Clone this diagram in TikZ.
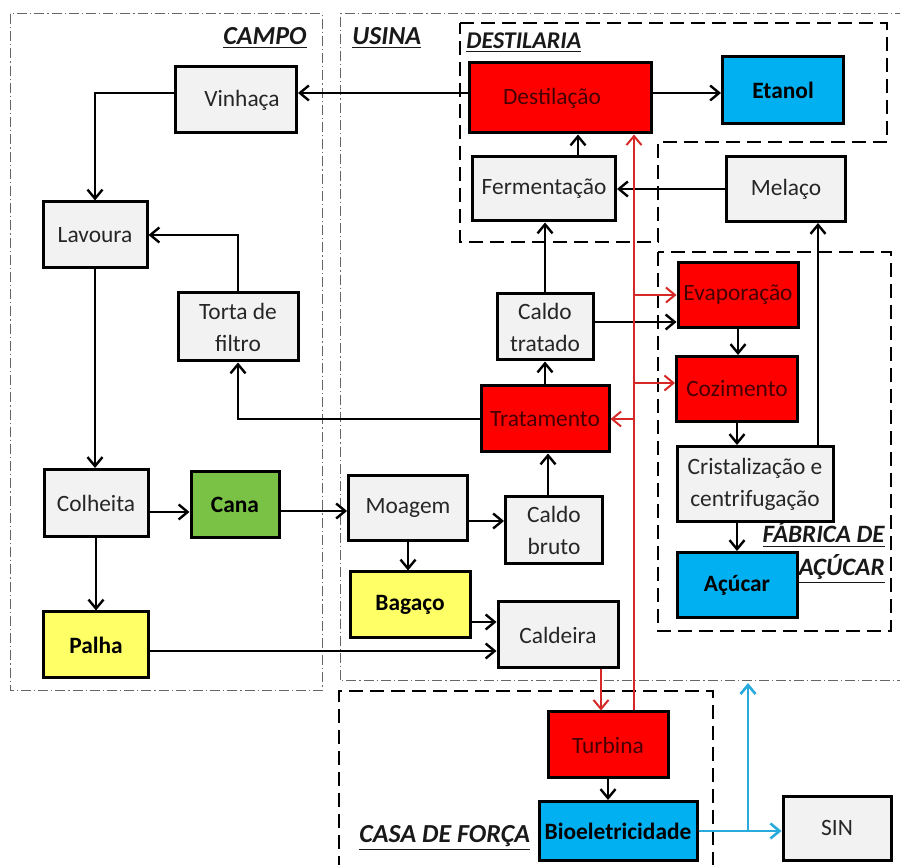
\documentclass[tikz,border=0pt]{standalone}
\usepackage{fontspec}
\setmainfont{Carlito}
\usepackage{tikz}
\usetikzlibrary{calc,arrows.meta}

\definecolor{boxgray}{RGB}{242,242,242}
\definecolor{procred}{RGB}{255,0,0}
\definecolor{textred}{RGB}{70,0,0}
\definecolor{prodblue}{RGB}{0,176,240}
\definecolor{canegreen}{RGB}{122,194,70}
\definecolor{strawyellow}{RGB}{255,255,102}
\definecolor{steamred}{RGB}{215,40,40}
\definecolor{powerblue}{RGB}{40,170,220}

\begin{document}
\begin{tikzpicture}[x=0.5pt,y=-0.5pt,
  font=\fontsize{11.7}{16}\selectfont,
  dims/.style 2 args={minimum width=#1*0.5pt,minimum height=#2*0.5pt},
  box/.style={draw,line width=1.5pt,fill=boxgray,text=black!85,align=center,inner sep=0pt},
  strong/.style={font=\fontsize{11.7}{16}\selectfont\bfseries,text=black},
  hot/.style={box,fill=procred,text=textred},
  product/.style={box,strong,fill=prodblue},
  flow/.style={line width=1.2pt,-{Straight Barb[length=4.5pt,width=7.5pt]}},
  steam/.style={flow,steamred,line width=1pt},
  power/.style={flow,powerblue,line width=1.3pt},
  area/.style={line width=1pt,dash pattern=on 7pt off 3.5pt},
  zone/.style={line width=0.5pt,black!60,dash pattern=on 5pt off 1.5pt on 0.6pt off 1.5pt},
  title/.style={font=\fontsize{13}{17}\selectfont\bfseries\itshape,text=black!90,inner sep=0pt}
]
  \useasboundingbox (0,0) rectangle (900,865);

  % Zones
  \draw[zone] (10,14) rectangle (322,691);
  \draw[zone] (905,14) -- (340,14) -- (340,681) -- (905,681);
  \draw[area] (460,23) -- (887,23) -- (887,142) -- (658,142) -- (658,242) -- (460,242) -- cycle;
  \draw[area] (658,252) rectangle (891,631);
  \draw[area] (339,870) -- (339,691) -- (713,691) -- (713,870);

  \node[title,anchor=east] (campo) at (307,38) {\underline{CAMPO}};
  \node[title,anchor=west] (usina) at (352,38) {\underline{USINA}};
  \node[title,anchor=west,font=\fontsize{12}{16}\selectfont\bfseries\itshape] (destilaria) at (466,43) {\underline{DESTILARIA}};
  \node[title,anchor=east,align=right,font=\fontsize{12.5}{16.5}\selectfont\bfseries\itshape] (fabrica) at (885,553) {\underline{FÁBRICA DE}\\\underline{AÇÚCAR}};
  \node[title,anchor=west] (casa) at (359,838) {\underline{CASA DE FORÇA}};

  % Campo
  \node[box,dims={121}{66}] (vinhaca) at (236,100) {\hspace{6pt}Vinhaça};
  \node[box,dims={104}{66}] (lavoura) at (95,235) {Lavoura};
  \node[box,dims={120}{68}] (torta) at (238,327) {Torta de\\filtro};
  \node[box,dims={104}{67}] (colheita) at (96,503) {Colheita};
  \node[box,strong,fill=canegreen,dims={88}{66}] (cana) at (235,505) {Cana};
  \node[box,strong,fill=strawyellow,dims={105}{66}] (palha) at (96,645) {Palha};

  % Usina
  \node[box,dims={119}{65}] (moagem) at (408,508) {Moagem};
  \node[box,strong,fill=strawyellow,dims={120}{66}] (bagaco) at (410,605) {Bagaço};
  \node[box,dims={97}{67}] (caldobruto) at (554,530) {Caldo\\bruto};
  \node[box,dims={120}{66}] (caldeira) at (558,635) {Caldeira};
  \node[hot,dims={128}{66}] (tratamento) at (545,419) {Tratamento};
  \node[box,dims={96}{66}] (caldotratado) at (545,327) {Caldo\\tratado};

  % Destilaria
  \node[box,dims={143}{64}] (fermentacao) at (544,189) {Fermentação};
  \node[hot,dims={182}{70}] (destilacao) at (560,98) {Destilação\hspace{8pt}};
  \node[product,dims={121}{67}] (etanol) at (783,90) {Etanol};
  \node[box,dims={119}{65}] (melaco) at (786,189) {Melaço};

  % Fabrica de acucar
  \node[hot,dims={120}{65}] (evaporacao) at (738,295) {Evaporação};
  \node[hot,dims={121}{65}] (cozimento) at (737,389) {Cozimento};
  \node[box,dims={156}{75}] (cristal) at (755,484) {Cristalização e\\centrifugação};
  \node[product,dims={120}{65}] (acucar) at (737,585) {Açúcar};

  % Casa de forca
  \node[hot,dims={120}{66}] (turbina) at (608,745) {Turbina};
  \node[product,dims={158}{59}] (bio) at (618,831) {Bioeletricidade};
  \node[box,dims={108}{64}] (sin) at (837,828) {SIN};

  % Flows
  \coordinate (d2v) at ($(destilacao.west)+(0,-5)$);
  \coordinate (v2l) at ($(vinhaca.west)+(0,-7)$);
  \coordinate (d2e) at ($(destilacao.east)+(0,-5)$);
  \coordinate (f2d) at ($(fermentacao.north)+(34,0)$);
  \coordinate (b2t) at ($(caldobruto.north)+(-6,0)$);
  \coordinate (m2c) at ($(moagem.east)+(0,13)$);
  \coordinate (c2m) at ($(cana.east)+(0,6)$);
  \coordinate (h2c) at ($(colheita.east)+(0,9)$);
  \coordinate (p2c) at ($(palha.east)+(0,6)$);
  \coordinate (g2c) at ($(bagaco.east)+(0,17)$);
  \coordinate (t2e) at ($(caldotratado.east)+(0,-5)$);
  \coordinate (x2m) at ($(melaco.south)+(32,0)$);

  \draw[flow] (d2v) -- (d2v -| vinhaca.east);
  \draw[flow] (v2l) -| (lavoura.north);
  \draw[flow] (d2e) -- (d2e -| etanol.west);
  \draw[flow] (f2d) -- (f2d |- destilacao.south);
  \draw[flow] (melaco.west) -- (melaco.west -| fermentacao.east);
  \draw[flow] (caldotratado.north) -- (caldotratado.north |- fermentacao.south);
  \draw[flow] (tratamento.north) -- (tratamento.north |- caldotratado.south);
  \draw[flow] (b2t) -- (b2t |- tratamento.south);
  \draw[flow] (m2c) -- (m2c -| caldobruto.west);
  \draw[flow] (moagem.south) -- (moagem.south |- bagaco.north);
  \draw[flow] (c2m) -- (c2m -| moagem.west);
  \draw[flow] (h2c) -- (h2c -| cana.west);
  \draw[flow] (lavoura.south) -- (lavoura.south |- colheita.north);
  \draw[flow] (colheita.south) -- (colheita.south |- palha.north);
  \draw[flow] (torta.north) |- (lavoura.east);
  \draw[flow] (tratamento.west) -| (torta.south);
  \draw[flow] (p2c) -- (p2c -| caldeira.west);
  \draw[flow] (g2c) -- (g2c -| caldeira.west);
  \draw[flow] (t2e) -- (t2e -| evaporacao.west);
  \draw[flow] (evaporacao.south) -- (evaporacao.south |- cozimento.north);
  \draw[flow] (cozimento.south) -- (cozimento.south |- cristal.north);
  \draw[flow] (acucar.north |- cristal.south) -- (acucar.north);
  \draw[flow] (x2m |- cristal.north) -- (x2m);
  \draw[flow] (turbina.south) -- (turbina.south |- bio.north);

  % Steam
  \coordinate (steamline) at ($(turbina.north)+(26,0)$);
  \coordinate (c2t) at ($(caldeira.south)+(43,0)$);
  \coordinate (s2z) at ($(cozimento.west)+(0,-6)$);
  \draw[steam] (c2t) -- (c2t |- turbina.north);
  \draw[steam] (steamline) -- (steamline |- destilacao.south);
  \draw[steam] (steamline |- evaporacao.west) -- (evaporacao.west);
  \draw[steam] (steamline |- s2z) -- (s2z);
  \draw[steam] (steamline |- tratamento.east) -- (tratamento.east);

  % Power
  \coordinate (grid) at (748,683);
  \draw[power] (bio.east) -- (bio.east -| sin.west);
  \draw[power] (grid |- bio.east) -- (grid);
\end{tikzpicture}
\end{document}
